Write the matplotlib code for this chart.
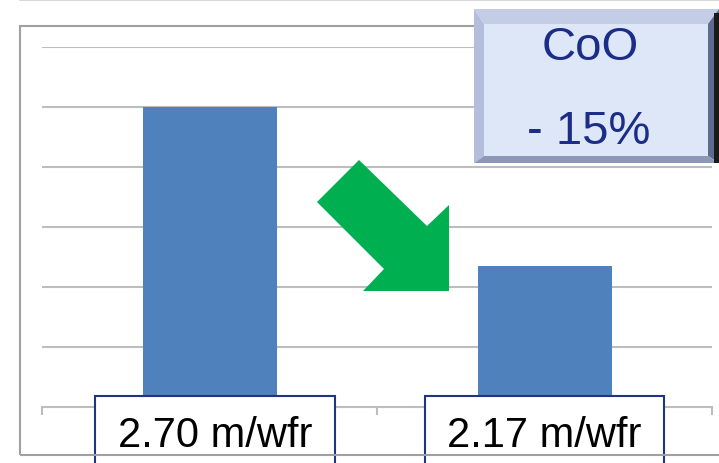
import matplotlib.pyplot as plt
from matplotlib.patches import Rectangle, Polygon
from matplotlib.lines import Line2D
from matplotlib.transforms import blended_transform_factory

# data
categories = ["before", "after"]
cost_per_wafer = [2.70, 2.17]
unit = "m/wfr"
reduction_text = ["CoO", "- 15%"]
grid_values = [1.9, 2.1, 2.3, 2.5, 2.7, 2.9]

W, H = 719, 464
fig = plt.figure(figsize=(W / 100, H / 100), dpi=100)
plt.rcParams['font.family'] = ['Liberation Sans', 'DejaVu Sans']


def px(x, y):
    # pixel position (from top-left) -> figure fraction
    return (x / W, 1 - y / H)


# outer frame + thin line at top
fig.patches.append(Rectangle(px(20, 456), (W - 20) / W + 0.01, (456 - 27) / H,
                             transform=fig.transFigure, fill=False,
                             edgecolor="#a0a0a0", linewidth=1.5))
fig.lines.append(Line2D([20 / W, 1], [1 - 1 / H, 1 - 1 / H], transform=fig.transFigure,
                        color="#cfcfcf", linewidth=1.2))

x0, y0 = px(42, 408)
x1, y1 = px(712, 48)
ax = fig.add_axes([x0, y0, x1 - x0, y1 - y0])

xpos = list(range(len(categories)))
ax.bar(xpos, [v - 1.7 for v in cost_per_wafer], bottom=1.7, width=0.4,
       color="#4f81bd", zorder=2)

ax.set_xlim(-0.5, 1.5)
ax.set_ylim(1.7, 2.9)
for g in grid_values:
    ax.axhline(g, color="#bdbdbd", linewidth=1.5, zorder=1)
for s in ["top", "right", "left"]:
    ax.spines[s].set_visible(False)
ax.spines["bottom"].set_color("#bdbdbd")
ax.spines["bottom"].set_linewidth(1.5)
ax.set_yticks([])
ax.set_xticks([-0.5, 0.5, 1.5])
ax.set_xticklabels([])
ax.tick_params(axis="x", direction="out", length=6, width=1.5, color="#bdbdbd")

# value boxes under the bars
bt = blended_transform_factory(ax.transData, ax.transAxes)
box_shift = [0.016, 0.0]
for i, v in enumerate(cost_per_wafer):
    cx = i + box_shift[i]
    ax.add_patch(Rectangle((cx - 0.358, -0.2), 0.716, 0.2306, transform=bt,
                           facecolor="white", edgecolor="#1f3580", linewidth=1.5,
                           clip_on=False, zorder=5))
    ax.text(cx, -0.078, f"{v:.2f} {unit}", transform=bt, ha="center", va="center",
            fontsize=30, color="black", zorder=6, clip_on=False)

# green arrow
arrow = [(359, 161), (317, 203), (384, 270), (363, 292), (449, 292),
         (449, 206), (427, 227)]
fig.patches.append(Polygon([px(a, b) for a, b in arrow], closed=True,
                           transform=fig.transFigure, facecolor="#00b050",
                           edgecolor="none", zorder=10))

# bevelled CoO box
L, T, R, B = 474, 10, 719, 164
iL, iT, iR, iB = 484, 25, 708, 157
faces = [
    ([(L, T), (R, T), (iR, iT), (iL, iT)], "#c3cde6"),
    ([(L, T), (iL, iT), (iL, iB), (L, B)], "#b2bedc"),
    ([(R, T), (R, B), (iR, iB), (iR, iT)], "#5f6b8c"),
    ([(L, B), (iL, iB), (iR, iB), (R, B)], "#8d98b8"),
    ([(iL, iT), (iR, iT), (iR, iB), (iL, iB)], "#dde7f8"),
]
for pts, c in faces:
    fig.patches.append(Polygon([px(a, b) for a, b in pts], closed=True,
                               transform=fig.transFigure, facecolor=c,
                               edgecolor="none", zorder=10))
fig.patches.append(Rectangle(px(714, 164), 5 / W, (164 - 14) / H,
                             transform=fig.transFigure, facecolor="#1a1a1a",
                             edgecolor="none", zorder=11))
fig.text(*px(590, 48), reduction_text[0], ha="center", va="center", fontsize=34,
         color="#1c2d87", zorder=12)
fig.text(*px(589, 132), reduction_text[1], ha="center", va="center", fontsize=34,
         color="#1c2d87", zorder=12)

fig.savefig("out.png", dpi=100)
